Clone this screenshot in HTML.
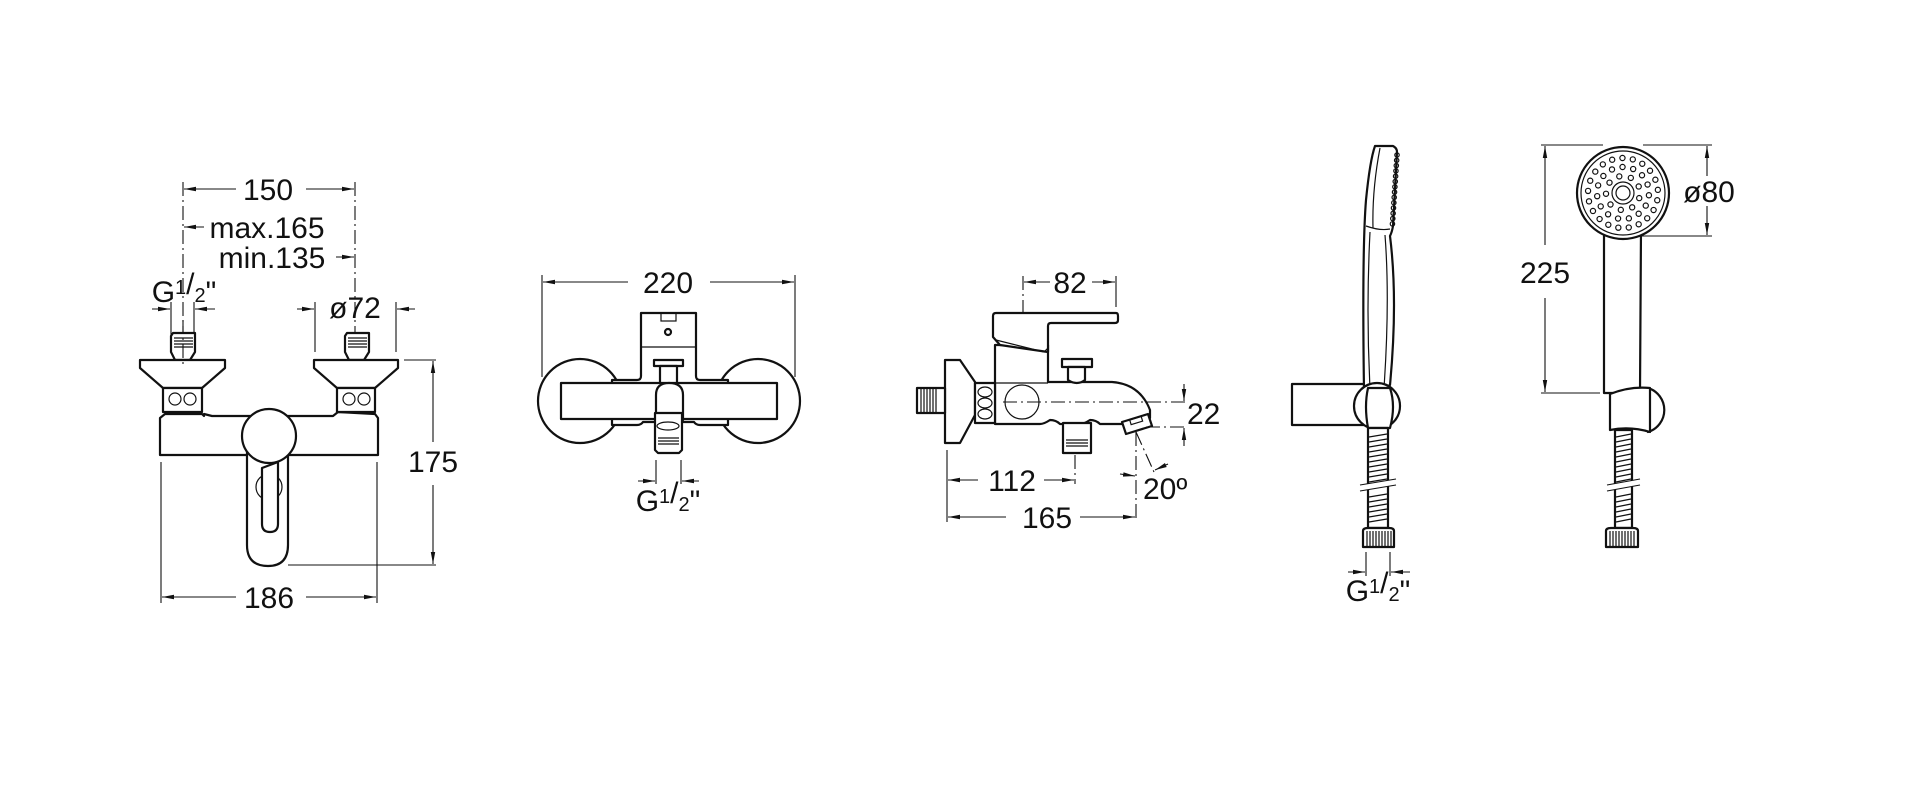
<!DOCTYPE html>
<html><head><meta charset="utf-8"><style>
html,body{margin:0;padding:0;background:#fff;width:1920px;height:812px;overflow:hidden}
svg{display:block}
text{font-family:"Liberation Sans",sans-serif;font-size:30px;fill:#111}
.o{fill:#fff;stroke:#111;stroke-width:2.2;stroke-linejoin:round}
.t{fill:none;stroke:#111;stroke-width:1.2}
.d{fill:none;stroke:#111;stroke-width:1.1}
.dd{fill:none;stroke:#111;stroke-width:1.1;stroke-dasharray:14 4 2 4}
</style></head><body>
<svg id="s" width="1920" height="812" viewBox="0 0 1920 812" xmlns="http://www.w3.org/2000/svg">
<defs>
<marker id="a" viewBox="0 0 12 6" refX="12" refY="3" markerWidth="12" markerHeight="6" markerUnits="userSpaceOnUse" orient="auto"><path d="M0,0.8 L12,3 L0,5.2z" fill="#111"/></marker>
</defs>

<!-- ===== Drawing 1 ===== -->
<line class="dd" x1="183" y1="182" x2="183" y2="370"/>
<line class="dd" x1="355" y1="182" x2="355" y2="370"/>
<line class="d" x1="236" y1="189" x2="184" y2="189" marker-end="url(#a)"/>
<line class="d" x1="306" y1="189" x2="354" y2="189" marker-end="url(#a)"/>
<text x="268" y="200" text-anchor="middle">150</text>
<line class="d" x1="204" y1="227" x2="184" y2="227" marker-end="url(#a)"/>
<text x="267" y="238" text-anchor="middle">max.165</text>
<line class="d" x1="336" y1="257" x2="354" y2="257" marker-end="url(#a)"/>
<text x="272" y="268" text-anchor="middle">min.135</text>
<text x="184" y="302" text-anchor="middle">G<tspan font-size="20" dy="-8">1</tspan><tspan>/</tspan><tspan font-size="20" dy="8">2</tspan>"</text>
<line class="d" x1="171" y1="302" x2="171" y2="342"/><line class="d" x1="194" y1="302" x2="194" y2="342"/>
<line class="d" x1="152" y1="309" x2="170" y2="309" marker-end="url(#a)"/>
<line class="d" x1="215" y1="309" x2="195" y2="309" marker-end="url(#a)"/>
<text x="355" y="318" text-anchor="middle">ø72</text>
<line class="d" x1="315" y1="302" x2="315" y2="352"/><line class="d" x1="396" y1="302" x2="396" y2="352"/>
<line class="d" x1="297" y1="309" x2="314" y2="309" marker-end="url(#a)"/>
<line class="d" x1="415" y1="309" x2="397" y2="309" marker-end="url(#a)"/>
<!-- nipples -->
<path class="o" d="M171,336 L173,333 L195,333 L195,352 L190,360 L175,360 L171,352Z"/>
<path class="t" d="M174,338h19M174,341h19M174,344h19M174,347h19"/>
<path class="o" d="M345,336 L347,333 L369,333 L369,352 L364,360 L349,360 L345,352Z"/>
<path class="t" d="M348,338h19M348,341h19M348,344h19M348,347h19"/>
<!-- body -->
<path class="o" d="M160,418 L165,414 L202,414 L204,416 L204,414 L212,416 L333,416 L338,412 L375,414 L378,418 L378,455 L160,455Z"/>
<path class="o" d="M140,360 L225,360 L225,368 L202,388 L163,388 L140,368Z"/>
<rect class="o" x="163" y="388" width="39" height="24"/>
<circle class="t" cx="175" cy="399" r="6"/><circle class="t" cx="190" cy="399" r="6"/>
<path class="o" d="M314,360 L398,360 L398,368 L375,388 L337,388 L314,368Z"/>
<rect class="o" x="337" y="388" width="38" height="24"/>
<circle class="t" cx="349" cy="399" r="6"/><circle class="t" cx="364" cy="399" r="6"/>
<line class="dd" x1="183" y1="320" x2="183" y2="365"/>
<!-- lever -->
<path class="o" d="M247,450 L288,450 L288,545 Q288,566 268,566 Q247,566 247,545Z"/>
<circle class="o" cx="269" cy="436" r="27"/>
<circle class="t" cx="269" cy="487" r="13"/>
<path class="o" d="M262,468 L278,462 L278,524 Q278,532 270,532 Q262,532 262,524Z"/>
<!-- 175 -->
<line class="d" x1="404" y1="360" x2="436" y2="360"/>
<line class="d" x1="288" y1="565" x2="436" y2="565"/>
<line class="d" x1="433" y1="442" x2="433" y2="361" marker-end="url(#a)"/>
<line class="d" x1="433" y1="485" x2="433" y2="564" marker-end="url(#a)"/>
<text x="433" y="472" text-anchor="middle">175</text>
<!-- 186 -->
<line class="d" x1="161" y1="462" x2="161" y2="603"/><line class="d" x1="377" y1="462" x2="377" y2="603"/>
<line class="d" x1="236" y1="597" x2="162" y2="597" marker-end="url(#a)"/>
<line class="d" x1="306" y1="597" x2="376" y2="597" marker-end="url(#a)"/>
<text x="269" y="608" text-anchor="middle">186</text>

<!-- ===== Drawing 2 ===== -->
<line class="d" x1="542" y1="275" x2="542" y2="377"/><line class="d" x1="795" y1="275" x2="795" y2="377"/>
<line class="d" x1="628" y1="282" x2="543" y2="282" marker-end="url(#a)"/>
<line class="d" x1="710" y1="282" x2="794" y2="282" marker-end="url(#a)"/>
<text x="668" y="293" text-anchor="middle">220</text>
<circle class="o" cx="580" cy="401" r="42"/><circle class="o" cx="758" cy="401" r="42"/>
<path class="o" d="M612,380 L637,380 Q641,380 641,376 L641,313 L696,313 L696,376 Q696,380 700,380 L728,380 L728,425 L700,425 Q696,425 694,422 L643,422 Q641,425 637,425 L612,425Z"/>
<rect class="o" x="561" y="383" width="216" height="36"/>
<line class="t" x1="641" y1="347" x2="696" y2="347"/>
<rect class="t" x="661" y="313" width="15" height="8"/>
<circle class="o" cx="668" cy="332" r="3"/>
<rect class="o" x="654" y="360" width="29" height="6"/>
<rect class="o" x="660" y="366" width="17" height="17"/>
<path class="o" d="M656,420 L656,395 Q656,383 669,383 Q683,383 683,395 L683,420Z"/>
<path class="o" d="M655,413 L682,413 L682,450 L679,453 L658,453 L655,450Z"/>
<ellipse class="t" cx="668" cy="426" rx="11" ry="4"/>
<path class="t" d="M658,438h21M658,441h21M658,444h21"/>
<line class="d" x1="656" y1="460" x2="656" y2="484"/><line class="d" x1="681" y1="460" x2="681" y2="484"/>
<line class="d" x1="638" y1="481" x2="655" y2="481" marker-end="url(#a)"/>
<line class="d" x1="699" y1="481" x2="682" y2="481" marker-end="url(#a)"/>
<text x="668" y="511" text-anchor="middle">G<tspan font-size="20" dy="-8">1</tspan><tspan>/</tspan><tspan font-size="20" dy="8">2</tspan>"</text>

<!-- ===== Drawing 3 ===== -->
<line class="dd" x1="1023" y1="276" x2="1023" y2="420"/>
<line class="d" x1="1116" y1="276" x2="1116" y2="307"/>
<line class="d" x1="1050" y1="282" x2="1024" y2="282" marker-end="url(#a)"/>
<line class="d" x1="1092" y1="282" x2="1115" y2="282" marker-end="url(#a)"/>
<text x="1070" y="293" text-anchor="middle">82</text>
<!-- flange -->
<path class="o" d="M945,360 L960,360 L975,382 L975,415 L960,443 L945,443Z"/>
<rect class="o" x="917" y="388" width="28" height="25"/>
<path class="t" d="M921,389v23M924,389v23M927,389v23M930,389v23M933,389v23M936,389v23"/>
<!-- spout & body -->
<path class="o" d="M995,345 L1048,345 L1048,382 L1112,382 Q1140,384 1150,410 L1150,418 L1122,424 L1100,424 Q1096,420 1090,420 Q1084,424 1080,424 L1060,424 Q1056,420 1050,420 Q1044,424 1040,424 L995,424Z"/>
<path class="o" d="M1122,422 L1148,414 L1152,426 L1126,434Z"/>
<rect class="t" x="1130" y="418" width="12" height="5" transform="rotate(-17 1136 420)"/>
<rect class="o" x="975" y="383" width="20" height="40"/>
<ellipse class="t" cx="985" cy="392" rx="7" ry="5"/><ellipse class="t" cx="985" cy="403" rx="7" ry="5"/><ellipse class="t" cx="985" cy="414" rx="7" ry="5"/>
<line class="t" x1="995" y1="383" x2="1048" y2="383"/>
<circle class="t" cx="1022" cy="402" r="17"/>
<!-- lever -->
<path class="o" d="M993,316 Q993,313 996,313 L1116,313 Q1118,313 1118,316 L1118,320 Q1118,323 1115,323 L1051,323 Q1048,323 1048,326 L1048,352 L1000,345 L993,337Z"/>
<path class="t" d="M996,340 L1044,352 L1048,348"/>
<rect class="o" x="1062" y="359" width="30" height="8"/>
<path class="o" d="M1068,367 L1085,367 L1085,380 Q1077,386 1068,380Z"/>
<rect class="o" x="1063" y="423" width="28" height="30"/>
<path class="t" d="M1066,440h22M1066,443h22M1066,446h22"/>
<line class="dd" x1="1003" y1="402" x2="1186" y2="402"/>
<line class="dd" x1="1146" y1="427" x2="1186" y2="427"/>
<!-- 22 -->
<line class="d" x1="1184" y1="384" x2="1184" y2="401" marker-end="url(#a)"/>
<line class="d" x1="1184" y1="446" x2="1184" y2="428" marker-end="url(#a)"/>
<text x="1187" y="424">22</text>
<!-- 112/165 -->
<line class="d" x1="947" y1="450" x2="947" y2="522"/>
<line class="dd" x1="1075" y1="455" x2="1075" y2="484"/>
<line class="dd" x1="1136" y1="432" x2="1136" y2="522"/>
<line class="d" x1="978" y1="480" x2="948" y2="480" marker-end="url(#a)"/>
<line class="d" x1="1044" y1="480" x2="1074" y2="480" marker-end="url(#a)"/>
<text x="1012" y="491" text-anchor="middle">112</text>
<line class="d" x1="1006" y1="517" x2="948" y2="517" marker-end="url(#a)"/>
<line class="d" x1="1080" y1="517" x2="1135" y2="517" marker-end="url(#a)"/>
<text x="1047" y="528" text-anchor="middle">165</text>
<line class="dd" x1="1136" y1="432" x2="1154" y2="472"/>
<line class="d" x1="1120" y1="474" x2="1135" y2="476" marker-end="url(#a)"/>
<line class="d" x1="1168" y1="464" x2="1155" y2="470" marker-end="url(#a)"/>
<text x="1143" y="499">20º</text>

<!-- ===== Drawing 4 (side handshower) ===== -->
<rect class="o" x="1292" y="384" width="74" height="41"/>
<path class="o" d="M1375,146 L1393,146 Q1397,148 1397,152 L1393,226 Q1392,232 1390,236 Q1398,300 1390,385 L1364,390 Q1362,250 1366,200 Q1370,160 1375,146Z"/>
<path class="t" d="M1366,226 Q1380,231 1390,229 M1380,148 Q1372,190 1373,228 M1370,232 Q1366,310 1370,388 M1385,235 Q1390,300 1384,388"/>
<g id="hd"></g>
<circle class="o" cx="1377" cy="406" r="23"/>
<path class="o" d="M1368,388 L1390,388 Q1396,406 1390,428 L1368,428 Q1364,406 1368,388Z"/>
<rect class="o" x="1368" y="428" width="20" height="100"/>
<g id="h1"></g>
<path class="o" d="M1363,531 Q1363,528 1368,528 L1389,528 Q1394,528 1394,531 L1394,547 L1363,547Z"/>
<path class="t" d="M1367,531v15M1370,531v15M1373,531v15M1376,531v15M1379,531v15M1382,531v15M1385,531v15M1388,531v15M1391,531v15"/>
<line class="d" x1="1366" y1="552" x2="1366" y2="576"/><line class="d" x1="1390" y1="552" x2="1390" y2="576"/>
<line class="d" x1="1348" y1="572" x2="1365" y2="572" marker-end="url(#a)"/>
<line class="d" x1="1410" y1="572" x2="1391" y2="572" marker-end="url(#a)"/>
<text x="1378" y="601" text-anchor="middle">G<tspan font-size="20" dy="-8">1</tspan><tspan>/</tspan><tspan font-size="20" dy="8">2</tspan>"</text>

<!-- ===== Drawing 5 (front handshower) ===== -->
<path class="o" d="M1604,228 L1641,228 L1640,393 L1604,393Z"/>
<circle class="o" cx="1623" cy="193" r="46"/>
<circle class="t" cx="1623" cy="193" r="42"/>
<g id="dots"></g>
<circle class="t" cx="1623" cy="193" r="11"/>
<circle class="t" cx="1623" cy="193" r="7"/>
<path class="o" d="M1648,388 A23,23 0 0 1 1648,432Z"/>
<path class="o" d="M1610,394 Q1630,386 1650,388 L1650,432 Q1630,426 1610,430Z"/>
<rect class="o" x="1615" y="430" width="17" height="98"/>
<g id="h2"></g>
<path class="o" d="M1606,531 Q1606,528 1611,528 L1633,528 Q1638,528 1638,531 L1638,547 L1606,547Z"/>
<path class="t" d="M1610,531v15M1613,531v15M1616,531v15M1619,531v15M1622,531v15M1625,531v15M1628,531v15M1631,531v15M1634,531v15"/>
<!-- 225 -->
<line class="d" x1="1541" y1="145" x2="1603" y2="145"/>
<line class="d" x1="1643" y1="145" x2="1712" y2="145"/>
<line class="d" x1="1541" y1="393" x2="1600" y2="393"/>
<line class="d" x1="1545" y1="245" x2="1545" y2="146" marker-end="url(#a)"/>
<line class="d" x1="1545" y1="298" x2="1545" y2="392" marker-end="url(#a)"/>
<text x="1545" y="283" text-anchor="middle">225</text>
<!-- ø80 -->
<line class="d" x1="1642" y1="236" x2="1712" y2="236"/>
<line class="d" x1="1707" y1="176" x2="1707" y2="146" marker-end="url(#a)"/>
<line class="d" x1="1707" y1="206" x2="1707" y2="235" marker-end="url(#a)"/>
<text x="1709" y="202" text-anchor="middle">ø80</text>
</svg>
<script>
var NS="http://www.w3.org/2000/svg";
function el(p,n,a){var e=document.createElementNS(NS,n);for(var k in a)e.setAttribute(k,a[k]);p.appendChild(e);return e;}
var g=document.getElementById('dots');
[[17,9],[26,15],[35,21]].forEach(function(r){for(var i=0;i<r[1];i++){var t=i*2*Math.PI/r[1]+r[0]*0.1;el(g,'circle',{cx:1623+r[0]*Math.cos(t),cy:193+r[0]*Math.sin(t),r:2.6,'class':'t'});}});
function hose(id,x1,x2){var h=document.getElementById(id);for(var y=434;y<524;y+=5){if(y>480&&y<492)continue;el(h,'line',{x1:x1+1,y1:y+3,x2:x2-1,y2:y,'class':'t'});}
el(h,'line',{x1:x1-8,y1:488,x2:x2+8,y2:482,stroke:'#fff','stroke-width':6});
el(h,'line',{x1:x1-8,y1:485,x2:x2+8,y2:479,'class':'d'});el(h,'line',{x1:x1-8,y1:491,x2:x2+8,y2:485,'class':'d'});}
hose('h1',1368,1388);hose('h2',1615,1632);
var hd=document.getElementById('hd');for(var i=0;i<14;i++){el(hd,'circle',{cx:1397-i*0.35,cy:155+i*5.3,r:2.2,'class':'t'});}
</script>
</body></html>
